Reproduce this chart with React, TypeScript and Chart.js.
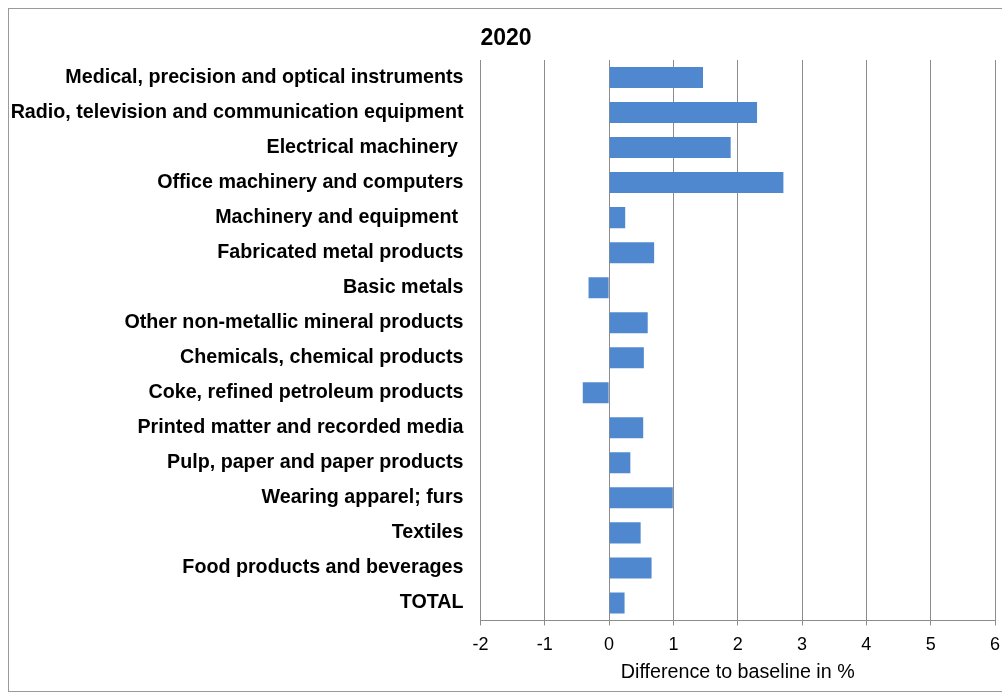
import { useEffect, useRef } from "react";
import { Chart, registerables } from "chart.js";

Chart.register(...registerables);

const categories = [
  "Medical, precision and optical instruments",
  "Radio, television and communication equipment",
  "Electrical machinery ",
  "Office machinery and computers",
  "Machinery and equipment ",
  "Fabricated metal products",
  "Basic metals",
  "Other non-metallic mineral products",
  "Chemicals, chemical products",
  "Coke, refined petroleum products",
  "Printed matter and recorded media",
  "Pulp, paper and paper products",
  "Wearing apparel; furs",
  "Textiles",
  "Food products and beverages",
  "TOTAL",
];

const values = [1.46, 2.3, 1.89, 2.71, 0.25, 0.7, -0.32, 0.6, 0.54, -0.41, 0.53, 0.33, 0.99, 0.49, 0.66, 0.24];

const xMin = -2;
const xMax = 6;
const xStep = 1;
const chartTitle = "2020";
const xAxisTitle = "Difference to baseline in %";

const FONT = "'Liberation Sans', Arial, sans-serif";

export default function App() {
  const ref = useRef<HTMLCanvasElement>(null);

  useEffect(() => {
    document.body.style.overflow = "hidden";
    const chart = new Chart(ref.current!, {
      type: "bar",
      data: {
        labels: categories,
        datasets: [
          {
            data: values,
            backgroundColor: "#5088d0",
            borderWidth: 0,
            barPercentage: 0.6,
            categoryPercentage: 1,
          },
        ],
      },
      options: {
        indexAxis: "y",
        animation: false,
        responsive: false,
        devicePixelRatio: 1,
        layout: { padding: { left: 0, right: 7, top: 0, bottom: 6.9 } },
        plugins: {
          legend: { display: false },
          tooltip: { enabled: false },
          title: {
            display: true,
            text: chartTitle,
            align: "start",
            fullSize: false,
            color: "#000",
            font: { family: FONT, size: 23, weight: "bold", lineHeight: 1.2 },
            padding: { top: 16.2, bottom: 7.2 },
          },
        },
        scales: {
          x: {
            type: "linear",
            min: xMin,
            max: xMax,
            ticks: {
              stepSize: xStep,
              padding: 9,
              color: "#000",
              font: { family: FONT, size: 18, lineHeight: 1.2 },
            },
            grid: { color: "#8c8c8c", lineWidth: 1, drawTicks: true, tickLength: 5 },
            border: { display: true, color: "#8c8c8c", width: 1 },
            title: {
              display: true,
              text: xAxisTitle,
              color: "#000",
              font: { family: FONT, size: 19.7, lineHeight: 1.16 },
              padding: { top: -3.8, bottom: 0 },
            },
            afterFit: (s: any) => {
              s.paddingLeft = 0;
              s.paddingRight = 0;
            },
          },
          y: {
            ticks: {
              autoSkip: false,
              padding: 17,
              color: "#000",
              font: { family: FONT, size: 19.7, weight: "bold" },
            },
            grid: { display: false, drawTicks: false },
            border: { display: false },
            afterFit: (s: any) => {
              s.width = 471.5;
              s.paddingTop = 0;
              s.paddingBottom = 0;
            },
          },
        },
      },
    } as any);
    return () => chart.destroy();
  }, []);

  return (
    <div
      style={{
        position: "absolute",
        left: 8,
        top: 8,
        width: 994,
        height: 684,
        boxSizing: "border-box",
        borderTop: "1px solid #9a9a9a",
        borderLeft: "1px solid #9a9a9a",
        borderBottom: "1px solid #9a9a9a",
        background: "#fff",
      }}
    >
      <canvas ref={ref} width={993} height={682} style={{ display: "block" }} />
    </div>
  );
}
